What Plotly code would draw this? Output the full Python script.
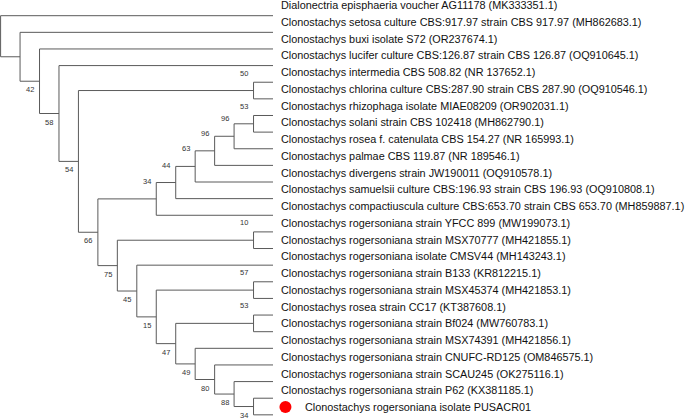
import plotly.graph_objects as go

# nomes das sequencias, de cima para baixo
taxa = [
    "Dialonectria episphaeria voucher AG11178 (MK333351.1)",
    "Clonostachys setosa culture CBS:917.97 strain CBS 917.97 (MH862683.1)",
    "Clonostachys buxi isolate S72 (OR237674.1)",
    "Clonostachys lucifer culture CBS:126.87 strain CBS 126.87 (OQ910645.1)",
    "Clonostachys intermedia CBS 508.82 (NR 137652.1)",
    "Clonostachys chlorina culture CBS:287.90 strain CBS 287.90 (OQ910546.1)",
    "Clonostachys rhizophaga isolate MIAE08209 (OR902031.1)",
    "Clonostachys solani strain CBS 102418 (MH862790.1)",
    "Clonostachys rosea f. catenulata CBS 154.27 (NR 165993.1)",
    "Clonostachys palmae CBS 119.87 (NR 189546.1)",
    "Clonostachys divergens strain JW190011 (OQ910578.1)",
    "Clonostachys samuelsii culture CBS:196.93 strain CBS 196.93 (OQ910808.1)",
    "Clonostachys compactiuscula culture CBS:653.70 strain CBS 653.70 (MH859887.1)",
    "Clonostachys rogersoniana strain YFCC 899 (MW199073.1)",
    "Clonostachys rogersoniana strain MSX70777 (MH421855.1)",
    "Clonostachys rogersoniana isolate CMSV44 (MH143243.1)",
    "Clonostachys rogersoniana strain B133 (KR812215.1)",
    "Clonostachys rogersoniana strain MSX45374 (MH421853.1)",
    "Clonostachys rosea strain CC17 (KT387608.1)",
    "Clonostachys rogersoniana strain Bf024 (MW760783.1)",
    "Clonostachys rogersoniana strain MSX74391 (MH421856.1)",
    "Clonostachys rogersoniana strain CNUFC-RD125 (OM846575.1)",
    "Clonostachys rogersoniana strain SCAU245 (OK275116.1)",
    "Clonostachys rogersoniana strain P62 (KX381185.1)",
    "Clonostachys rogersoniana isolate PUSACR01",
]

# topologia (indices das folhas) com valores de bootstrap
arvore = ("(0,(1,(2,(3,((4,5)50,(((((((6,7)53,8)96,9)96,10)63,11)44,12)34,"
          "((13,14)10,(15,((16,17)57,((18,19)53,(20,(21,(22,(23,24)34)88)80)49)47)15)45)75)66)54)58)42))")

destaque = 24  # isolado marcado com o ponto vermelho


def ler(s, i=0):
    if s[i] == "(":
        filhos = []
        i += 1
        while True:
            no, i = ler(s, i)
            filhos.append(no)
            if s[i] == ",":
                i += 1
            else:
                break
        i += 1  # fecha parentese
        j = i
        while j < len(s) and s[j].isdigit():
            j += 1
        return {"filhos": filhos, "boot": s[i:j]}, j
    j = i
    while s[j].isdigit():
        j += 1
    return {"folha": int(s[i:j])}, j


def altura(no):
    if "folha" in no:
        no["h"] = 0
    else:
        no["h"] = 1 + max(altura(f) for f in no["filhos"])
    return no["h"]


def posicao(no, total):
    no["x"] = total - no["h"]
    if "folha" in no:
        no["y"] = no["folha"]
    else:
        for f in no["filhos"]:
            posicao(f, total)
        no["y"] = (no["filhos"][0]["y"] + no["filhos"][-1]["y"]) / 2


raiz, _ = ler(arvore)
total = altura(raiz)
posicao(raiz, total)

xs, ys = [], []
rotulos = []


def ramos(no, pai=None, de_cima=False):
    if pai is not None:
        xs.extend([pai["x"], no["x"], None])
        ys.extend([no["y"], no["y"], None])
    if "filhos" in no:
        fs = no["filhos"]
        xs.extend([no["x"], no["x"], None])
        ys.extend([fs[0]["y"], fs[-1]["y"], None])
        if no["boot"]:
            rotulos.append((no["x"], no["y"], no["boot"], de_cima))
        for k, f in enumerate(fs):
            ramos(f, no, k == 0)


ramos(raiz)

fig = go.Figure()
fig.add_trace(go.Scatter(x=xs, y=ys, mode="lines", line=dict(color="#5a5a5a", width=1),
                         hoverinfo="skip", showlegend=False))

# ponto vermelho do isolado
fig.add_trace(go.Scatter(x=[total + 0.64], y=[destaque], yaxis="y2", mode="markers",
                         marker=dict(color="#ff0000", size=12), hoverinfo="skip", showlegend=False))

anot = []
for x, y, b, de_cima in rotulos:
    anot.append(dict(x=x, y=y, xref="x", yref="y", text=b, showarrow=False,
                     xshift=-9.5, yshift=17.5 if de_cima else -8.5,
                     font=dict(family="Liberation Sans, Arial", size=7.5, color="#333333")))
for i, nome in enumerate(taxa):
    anot.append(dict(x=total, y=i, xref="x", yref="y2", text=nome, showarrow=False,
                     xanchor="left", xshift=30 if i == destaque else 6,
                     font=dict(family="Liberation Sans, Arial", size=10.85, color="#111111")))

fig.update_layout(
    width=685, height=419,
    margin=dict(l=0, r=0, t=0, b=0),
    paper_bgcolor="white", plot_bgcolor="white",
    xaxis=dict(visible=False, range=[-0.031, 35.175]),
    yaxis=dict(visible=False, range=[24.25, -0.944]),
    yaxis2=dict(visible=False, range=[24.716, -0.2985], overlaying="y"),
    annotations=anot,
)

# tirar a margem padrao do body e a barra de ferramentas
fig.write_html("out.html", config={"displayModeBar": False},
               post_script="document.body.style.margin='0';")
